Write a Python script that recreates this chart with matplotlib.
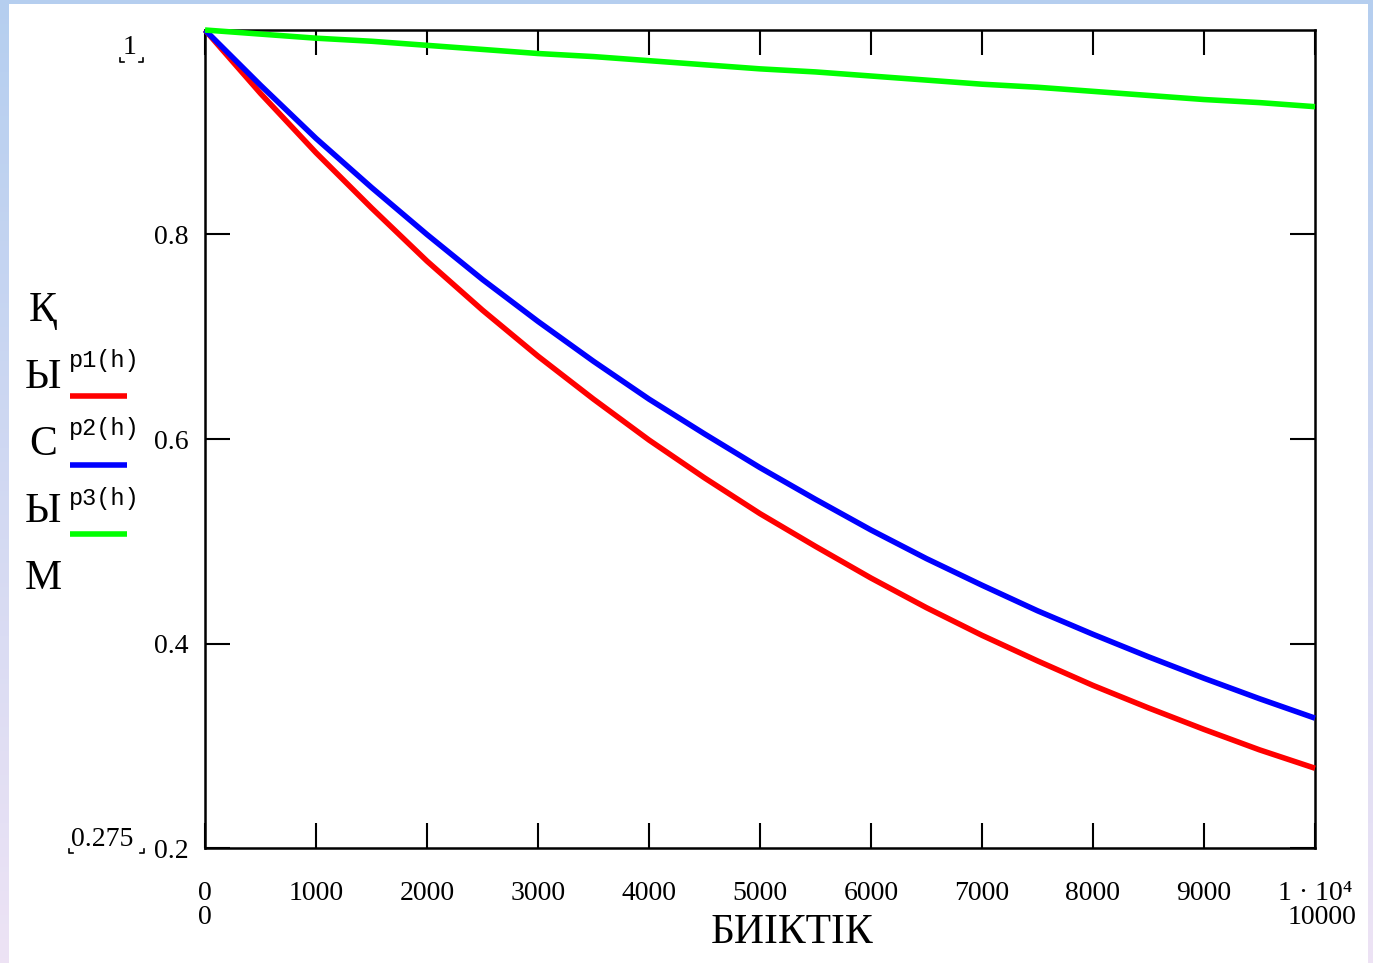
import numpy as np
import matplotlib
matplotlib.use("Agg")
import matplotlib.pyplot as plt
from matplotlib.lines import Line2D
from matplotlib.patches import Rectangle

# ---- data ----
h = [0, 500, 1000, 1500, 2000, 2500, 3000, 3500, 4000, 4500, 5000,
     5500, 6000, 6500, 7000, 7500, 8000, 8500, 9000, 9500, 10000]
p1 = [1.0, 0.938, 0.880, 0.826, 0.774, 0.726, 0.681, 0.639, 0.599, 0.562, 0.527,
      0.495, 0.464, 0.435, 0.408, 0.383, 0.359, 0.337, 0.316, 0.296, 0.278]
p2 = [1.0, 0.946, 0.894, 0.846, 0.800, 0.756, 0.715, 0.676, 0.639, 0.605, 0.572,
      0.541, 0.511, 0.483, 0.457, 0.432, 0.409, 0.387, 0.366, 0.346, 0.327]
p3 = [1.0, 0.996, 0.992, 0.989, 0.985, 0.981, 0.977, 0.974, 0.970, 0.966, 0.962,
      0.959, 0.955, 0.951, 0.947, 0.944, 0.940, 0.936, 0.932, 0.929, 0.925]
xticks = [0, 1000, 2000, 3000, 4000, 5000, 6000, 7000, 8000, 9000, 10000]
xticklabels = ["0", "1000", "2000", "3000", "4000", "5000", "6000", "7000",
               "8000", "9000", "1 · 10⁴"]
yticks = [0.2, 0.4, 0.6, 0.8]
yticklabels = ["0.2", "0.4", "0.6", "0.8"]
series_names = ["p1(h)", "p2(h)", "p3(h)"]
series_colors = ["#ff0000", "#0000ff", "#00ff00"]
ylabel_letters = ["Қ", "Ы", "С", "Ы", "М"]
xlabel = "БИІКТІК"

W, H = 1373, 963
fig = plt.figure(figsize=(W / 100, H / 100), dpi=100)

# background gradient frame
bg = fig.add_axes([0, 0, 1, 1], zorder=-10)
top = np.array([0.71, 0.81, 0.94])
bot = np.array([0.93, 0.89, 0.96])
t = np.linspace(0, 1, 200)[:, None]
grad = (top[None, :] * (1 - t) + bot[None, :] * t)[:, None, :]
bg.imshow(np.repeat(grad, 2, axis=1), aspect="auto", extent=[0, W, H, 0])
bg.add_patch(Rectangle((9, 4), 1359, 970, facecolor="white", edgecolor="none"))
bg.set_xlim(0, W)
bg.set_ylim(H, 0)
bg.axis("off")

serif = ["Liberation Serif", "DejaVu Serif"]
TFS = 20

def fx(px):
    return px / W

def fy(py):
    return 1 - py / H

ax = fig.add_axes([fx(205), fy(848), fx(1315) - fx(205), fy(30) - fy(848)])
ax.set_facecolor("none")
for y, c in zip([p1, p2, p3], series_colors):
    ax.plot(h, y, color=c, lw=4, zorder=3, clip_on=False, solid_capstyle="butt")

ax.set_xlim(0, 10000)
ax.set_ylim(0.2, 1.0)
ax.set_xticks(xticks)
ax.set_xticklabels(xticklabels, fontfamily=serif, fontsize=TFS)
ax.set_yticks(yticks)
ax.set_yticklabels(yticklabels, fontfamily=serif, fontsize=TFS)
ax.tick_params(axis="x", direction="in", length=18, width=1.5, top=True,
               pad=24, colors="black")
ax.tick_params(axis="y", direction="in", length=18, width=1.5, right=True,
               pad=12, colors="black")
for s in ax.spines.values():
    s.set_linewidth(1.8)
    s.set_zorder(2.5)

# axis limit labels (Mathcad style)
fig.text(fx(205), fy(917), "0", ha="center", va="center", fontfamily=serif, fontsize=TFS)
fig.text(fx(1322), fy(917), "10000", ha="center", va="center", fontfamily=serif, fontsize=TFS)
fig.text(fx(130), fy(47), "1", ha="center", va="center", fontfamily=serif, fontsize=TFS)
fig.text(fx(102), fy(839), "0.275", ha="center", va="center", fontfamily=serif, fontsize=TFS)
for (x0, y0, dx) in [(120, 62, 1), (143, 62, -1), (69, 853, 1), (144, 853, -1)]:
    fig.add_artist(Line2D([fx(x0), fx(x0), fx(x0 + 4 * dx)], [fy(y0 - 4), fy(y0), fy(y0)],
                          color="black", lw=1.2))

# x label
fig.text(fx(792), fy(933), xlabel, ha="center", va="center", fontfamily=serif, fontsize=30)

# vertical y label letters
for i, letter in enumerate(ylabel_letters):
    fig.text(fx(43), fy(311 + i * 67), letter, ha="center", va="center",
             fontfamily=serif, fontsize=30)

# legend
for i, (name, c) in enumerate(zip(series_names, series_colors)):
    yl = 360 + i * 69
    fig.text(fx(69), fy(yl), name, ha="left", va="center",
             fontfamily="Liberation Mono", fontsize=17)
    fig.add_artist(Line2D([fx(70), fx(127)], [fy(yl + 36), fy(yl + 36)],
                          color=c, lw=4, solid_capstyle="butt"))

fig.savefig("out.png", dpi=100)
